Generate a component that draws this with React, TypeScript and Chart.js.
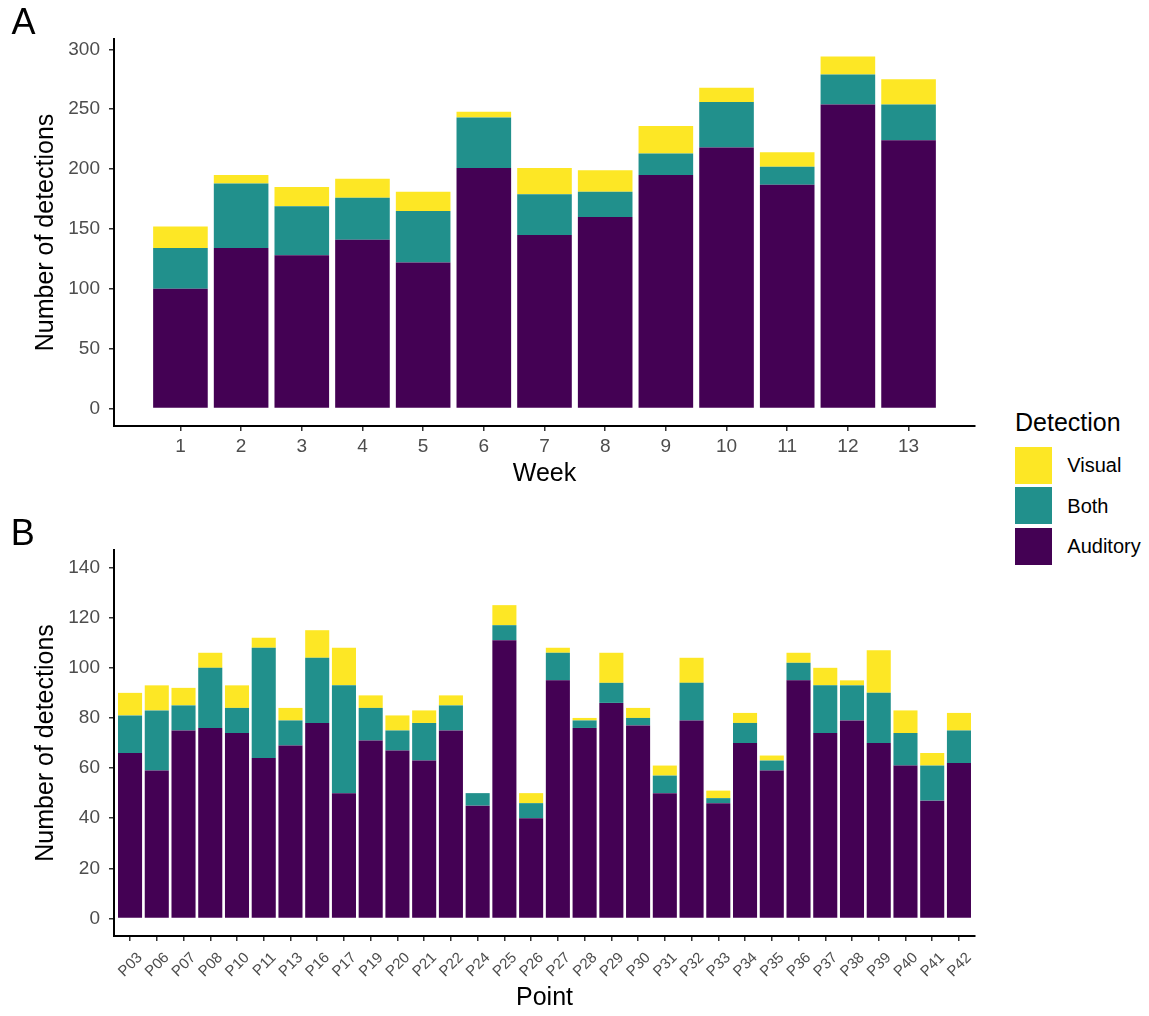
import React, { useEffect, useRef } from "react";
import { Chart, registerables } from "chart.js";

Chart.register(...registerables);

// ---------- Panel A data (by week) ----------
const weeks = [1, 2, 3, 4, 5, 6, 7, 8, 9, 10, 11, 12, 13];
const weekAuditory = [100, 134, 128, 141, 122, 201, 145, 160, 195, 218, 187, 254, 224];
const weekBoth = [34, 54, 41, 35, 43, 42, 34, 21, 18, 38, 15, 25, 30];
const weekVisual = [18, 7, 16, 16, 16, 5, 22, 18, 23, 12, 12, 15, 21];
const weekYTicks = [0, 50, 100, 150, 200, 250, 300];

// ---------- Panel B data (by point) ----------
const points = [
  "P03", "P06", "P07", "P08", "P10", "P11", "P13", "P16", "P17", "P19", "P20",
  "P21", "P22", "P24", "P25", "P26", "P27", "P28", "P29", "P30", "P31", "P32",
  "P33", "P34", "P35", "P36", "P37", "P38", "P39", "P40", "P41", "P42",
];
const pointAuditory = [66, 59, 75, 76, 74, 64, 69, 78, 50, 71, 67, 63, 75, 45, 111, 40, 95, 76, 86, 77, 50, 79, 46, 70, 59, 95, 74, 79, 70, 61, 47, 62];
const pointBoth = [15, 24, 10, 24, 10, 44, 10, 26, 43, 13, 8, 15, 10, 5, 6, 6, 11, 3, 8, 3, 7, 15, 2, 8, 4, 7, 19, 14, 20, 13, 14, 13];
const pointVisual = [9, 10, 7, 6, 9, 4, 5, 11, 15, 5, 6, 5, 4, 0, 8, 4, 2, 1, 12, 4, 4, 10, 3, 4, 2, 4, 7, 2, 17, 9, 5, 7];
const pointYTicks = [0, 20, 40, 60, 80, 100, 120, 140];

const seriesNames = ["Auditory", "Both", "Visual"];
const seriesColors = ["#440154", "#21908C", "#FDE725"];

const FONT = "'Liberation Sans', Arial, Helvetica, sans-serif";
const TICK_TEXT = "#4D4D4D";

type PanelSpec = {
  xLabels: string[];
  auditory: number[];
  both: number[];
  visual: number[];
  xMin: number;
  xMax: number;
  yMin: number;
  yMax: number;
  yTicks: number[];
  xTitle: string;
  rotation: number;
  xTickSize: number;
  xTickPadding: number;
  xLabelOffset: number;
  xTitlePadBottom: number;
  xAxisHeight: number;
  padTop: number;
};

function makeChart(canvas: HTMLCanvasElement, s: PanelSpec) {
  const xs = s.xLabels.map((_, i) => i + 1);
  const series = [s.auditory, s.both, s.visual];
  const makeGrid = () => ({
    display: true,
    offset: false,
    drawOnChartArea: false,
    drawTicks: true,
    tickLength: 5,
    tickColor: "#333333",
    tickWidth: 1.5,
    lineWidth: 1.5,
  });
  return new Chart(canvas, {
    type: "bar",
    data: {
      datasets: series.map((vals, k) => ({
        label: seriesNames[k],
        data: xs.map((x, i) => ({ x, y: vals[i] })),
        backgroundColor: seriesColors[k],
        borderWidth: 0,
        categoryPercentage: 1,
        barPercentage: 0.9,
      })),
    },
    options: {
      responsive: false,
      animation: false,
      devicePixelRatio: 1,
      layout: { padding: { left: 0, top: s.padTop, right: 15, bottom: 0 } },
      plugins: { legend: { display: false }, tooltip: { enabled: false } },
      scales: {
        x: {
          type: "linear",
          min: s.xMin,
          max: s.xMax,
          stacked: true,
          offset: false,
          afterBuildTicks: (scale: any) => {
            scale.ticks = xs.map((v) => ({ value: v }));
          },
          afterFit: (scale: any) => {
            scale.height = s.xAxisHeight;
          },
          ticks: {
            autoSkip: false,
            maxRotation: s.rotation,
            minRotation: s.rotation,
            padding: s.xTickPadding,
            labelOffset: s.xLabelOffset,
            color: TICK_TEXT,
            font: { family: FONT, size: s.xTickSize },
            callback: (_v: any, i: number) => s.xLabels[i],
          },
          grid: makeGrid(),
          border: { display: true, color: "#000000", width: 2 },
          title: {
            display: true,
            text: s.xTitle,
            color: "#000000",
            font: { family: FONT, size: 25 },
            padding: { top: 0, bottom: s.xTitlePadBottom },
          },
        },
        y: {
          type: "linear",
          min: s.yMin,
          max: s.yMax,
          stacked: true,
          afterBuildTicks: (scale: any) => {
            scale.ticks = s.yTicks.map((v) => ({ value: v }));
          },
          afterFit: (scale: any) => {
            scale.width = 114;
          },
          ticks: {
            padding: 9,
            color: TICK_TEXT,
            font: { family: FONT, size: 19 },
          },
          grid: makeGrid(),
          border: { display: true, color: "#000000", width: 2 },
          title: {
            display: true,
            text: "Number of detections",
            color: "#000000",
            font: { family: FONT, size: 25 },
            padding: { top: 31, bottom: 0 },
          },
        },
      },
    },
  } as any);
}

export default function App() {
  const refA = useRef<HTMLCanvasElement | null>(null);
  const refB = useRef<HTMLCanvasElement | null>(null);

  useEffect(() => {
    const a = makeChart(refA.current!, {
      xLabels: weeks.map(String),
      auditory: weekAuditory,
      both: weekBoth,
      visual: weekVisual,
      xMin: -0.095,
      xMax: 14.095,
      yMin: -14.7,
      yMax: 308.7,
      yTicks: weekYTicks,
      xTitle: "Week",
      rotation: 0,
      xTickSize: 19,
      xTickPadding: 4,
      xLabelOffset: 0,
      xTitlePadBottom: 11,
      xAxisHeight: 74,
      padTop: 39,
    });
    const b = makeChart(refB.current!, {
      xLabels: points,
      auditory: pointAuditory,
      both: pointBoth,
      visual: pointVisual,
      xMin: 0.4,
      xMax: 32.6,
      yMin: -7,
      yMax: 147,
      yTicks: pointYTicks,
      xTitle: "Point",
      rotation: 45,
      xTickSize: 15,
      xTickPadding: 8,
      xLabelOffset: 10,
      xTitlePadBottom: 3,
      xAxisHeight: 80,
      padTop: 40,
    });
    return () => {
      a.destroy();
      b.destroy();
    };
  }, []);

  const legendItems = [
    { name: "Visual", color: seriesColors[2] },
    { name: "Both", color: seriesColors[1] },
    { name: "Auditory", color: seriesColors[0] },
  ];

  return (
    <div
      style={{
        position: "absolute",
        left: 0,
        top: 0,
        width: 1149,
        height: 1016,
        background: "#ffffff",
        fontFamily: FONT,
        overflow: "hidden",
      }}
    >
      <canvas ref={refA} width={990} height={500} style={{ position: "absolute", left: 0, top: 0 }} />
      <canvas ref={refB} width={990} height={506} style={{ position: "absolute", left: 0, top: 510 }} />
      <div style={{ position: "absolute", left: 11.5, top: 3.6, fontSize: 36, lineHeight: 1, color: "#000" }}>A</div>
      <div style={{ position: "absolute", left: 10.7, top: 515.3, fontSize: 36, lineHeight: 1, color: "#000" }}>B</div>
      <div style={{ position: "absolute", left: 1015, top: 409.7, fontSize: 25, lineHeight: 1, color: "#000" }}>Detection</div>
      {legendItems.map((it, i) => (
        <div
          key={it.name}
          style={{
            position: "absolute",
            left: 1015,
            top: 446.7 + i * 40.5,
            height: 37.3,
            display: "flex",
            alignItems: "center",
          }}
        >
          <div style={{ width: 37.3, height: 37.3, background: it.color }} />
          <div style={{ marginLeft: 15, fontSize: 20, lineHeight: 1, color: "#000" }}>{it.name}</div>
        </div>
      ))}
    </div>
  );
}
